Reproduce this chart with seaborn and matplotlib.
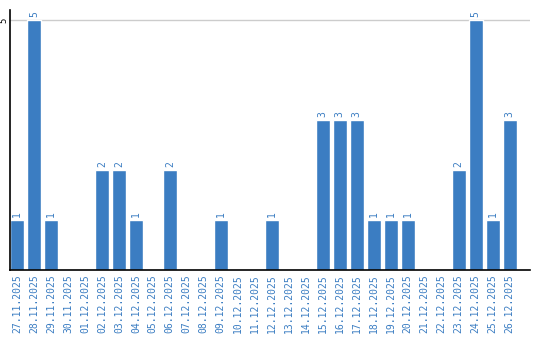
import matplotlib
matplotlib.use("Agg")
import matplotlib.pyplot as plt
import seaborn as sns
import pandas as pd

dates = ["27.11.2025", "28.11.2025", "29.11.2025", "30.11.2025", "01.12.2025",
         "02.12.2025", "03.12.2025", "04.12.2025", "05.12.2025", "06.12.2025",
         "07.12.2025", "08.12.2025", "09.12.2025", "10.12.2025", "11.12.2025",
         "12.12.2025", "13.12.2025", "14.12.2025", "15.12.2025", "16.12.2025",
         "17.12.2025", "18.12.2025", "19.12.2025", "20.12.2025", "21.12.2025",
         "22.12.2025", "23.12.2025", "24.12.2025", "25.12.2025", "26.12.2025"]
values = [1, 5, 1, 0, 0, 2, 2, 1, 0, 2, 0, 0, 1, 0, 0, 1, 0, 0, 3, 3, 3, 1, 1, 1, 0, 0, 2, 5, 1, 3]
y_ticks = [5]

BLUE = "#3b7dc2"

sns.set_style("white")
df = pd.DataFrame({"date": dates, "value": values})

fig = plt.figure(figsize=(5.4, 3.4), dpi=100)
ax = fig.add_axes([10/540, 70/340, 520/540, 260/340])
sns.barplot(data=df, x="date", y="value", color=BLUE, width=0.82, saturation=1, ax=ax)

ax.set_ylim(0, 5.2)
ax.set_xlim(-0.41, 30.2)
ax.set_yticks(y_ticks)
ax.set_yticklabels([str(t) for t in y_ticks], rotation=90, va="center", ha="right",
                   fontsize=6.5, family="DejaVu Sans Mono", color="black")
ax.grid(axis="y", color="#cccccc", linewidth=1)
ax.set_axisbelow(True)
ax.tick_params(axis="x", length=0, pad=3)
ax.tick_params(axis="y", length=0, pad=1)
ax.set_xticks(range(len(dates)))
ax.set_xticklabels(dates, rotation=90, fontsize=7, family="DejaVu Sans Mono", color=BLUE)
ax.set_xlabel("")
ax.set_ylabel("")
for s in ["top", "right"]:
    ax.spines[s].set_visible(False)
for s in ["left", "bottom"]:
    ax.spines[s].set_color("black")
    ax.spines[s].set_linewidth(1.2)

labels = [str(v) if v else "" for v in values]
ax.bar_label(ax.containers[0], labels=labels, rotation=90, padding=2,
             fontsize=7, family="DejaVu Sans Mono", color=BLUE)

fig.savefig("out.png", dpi=100)
